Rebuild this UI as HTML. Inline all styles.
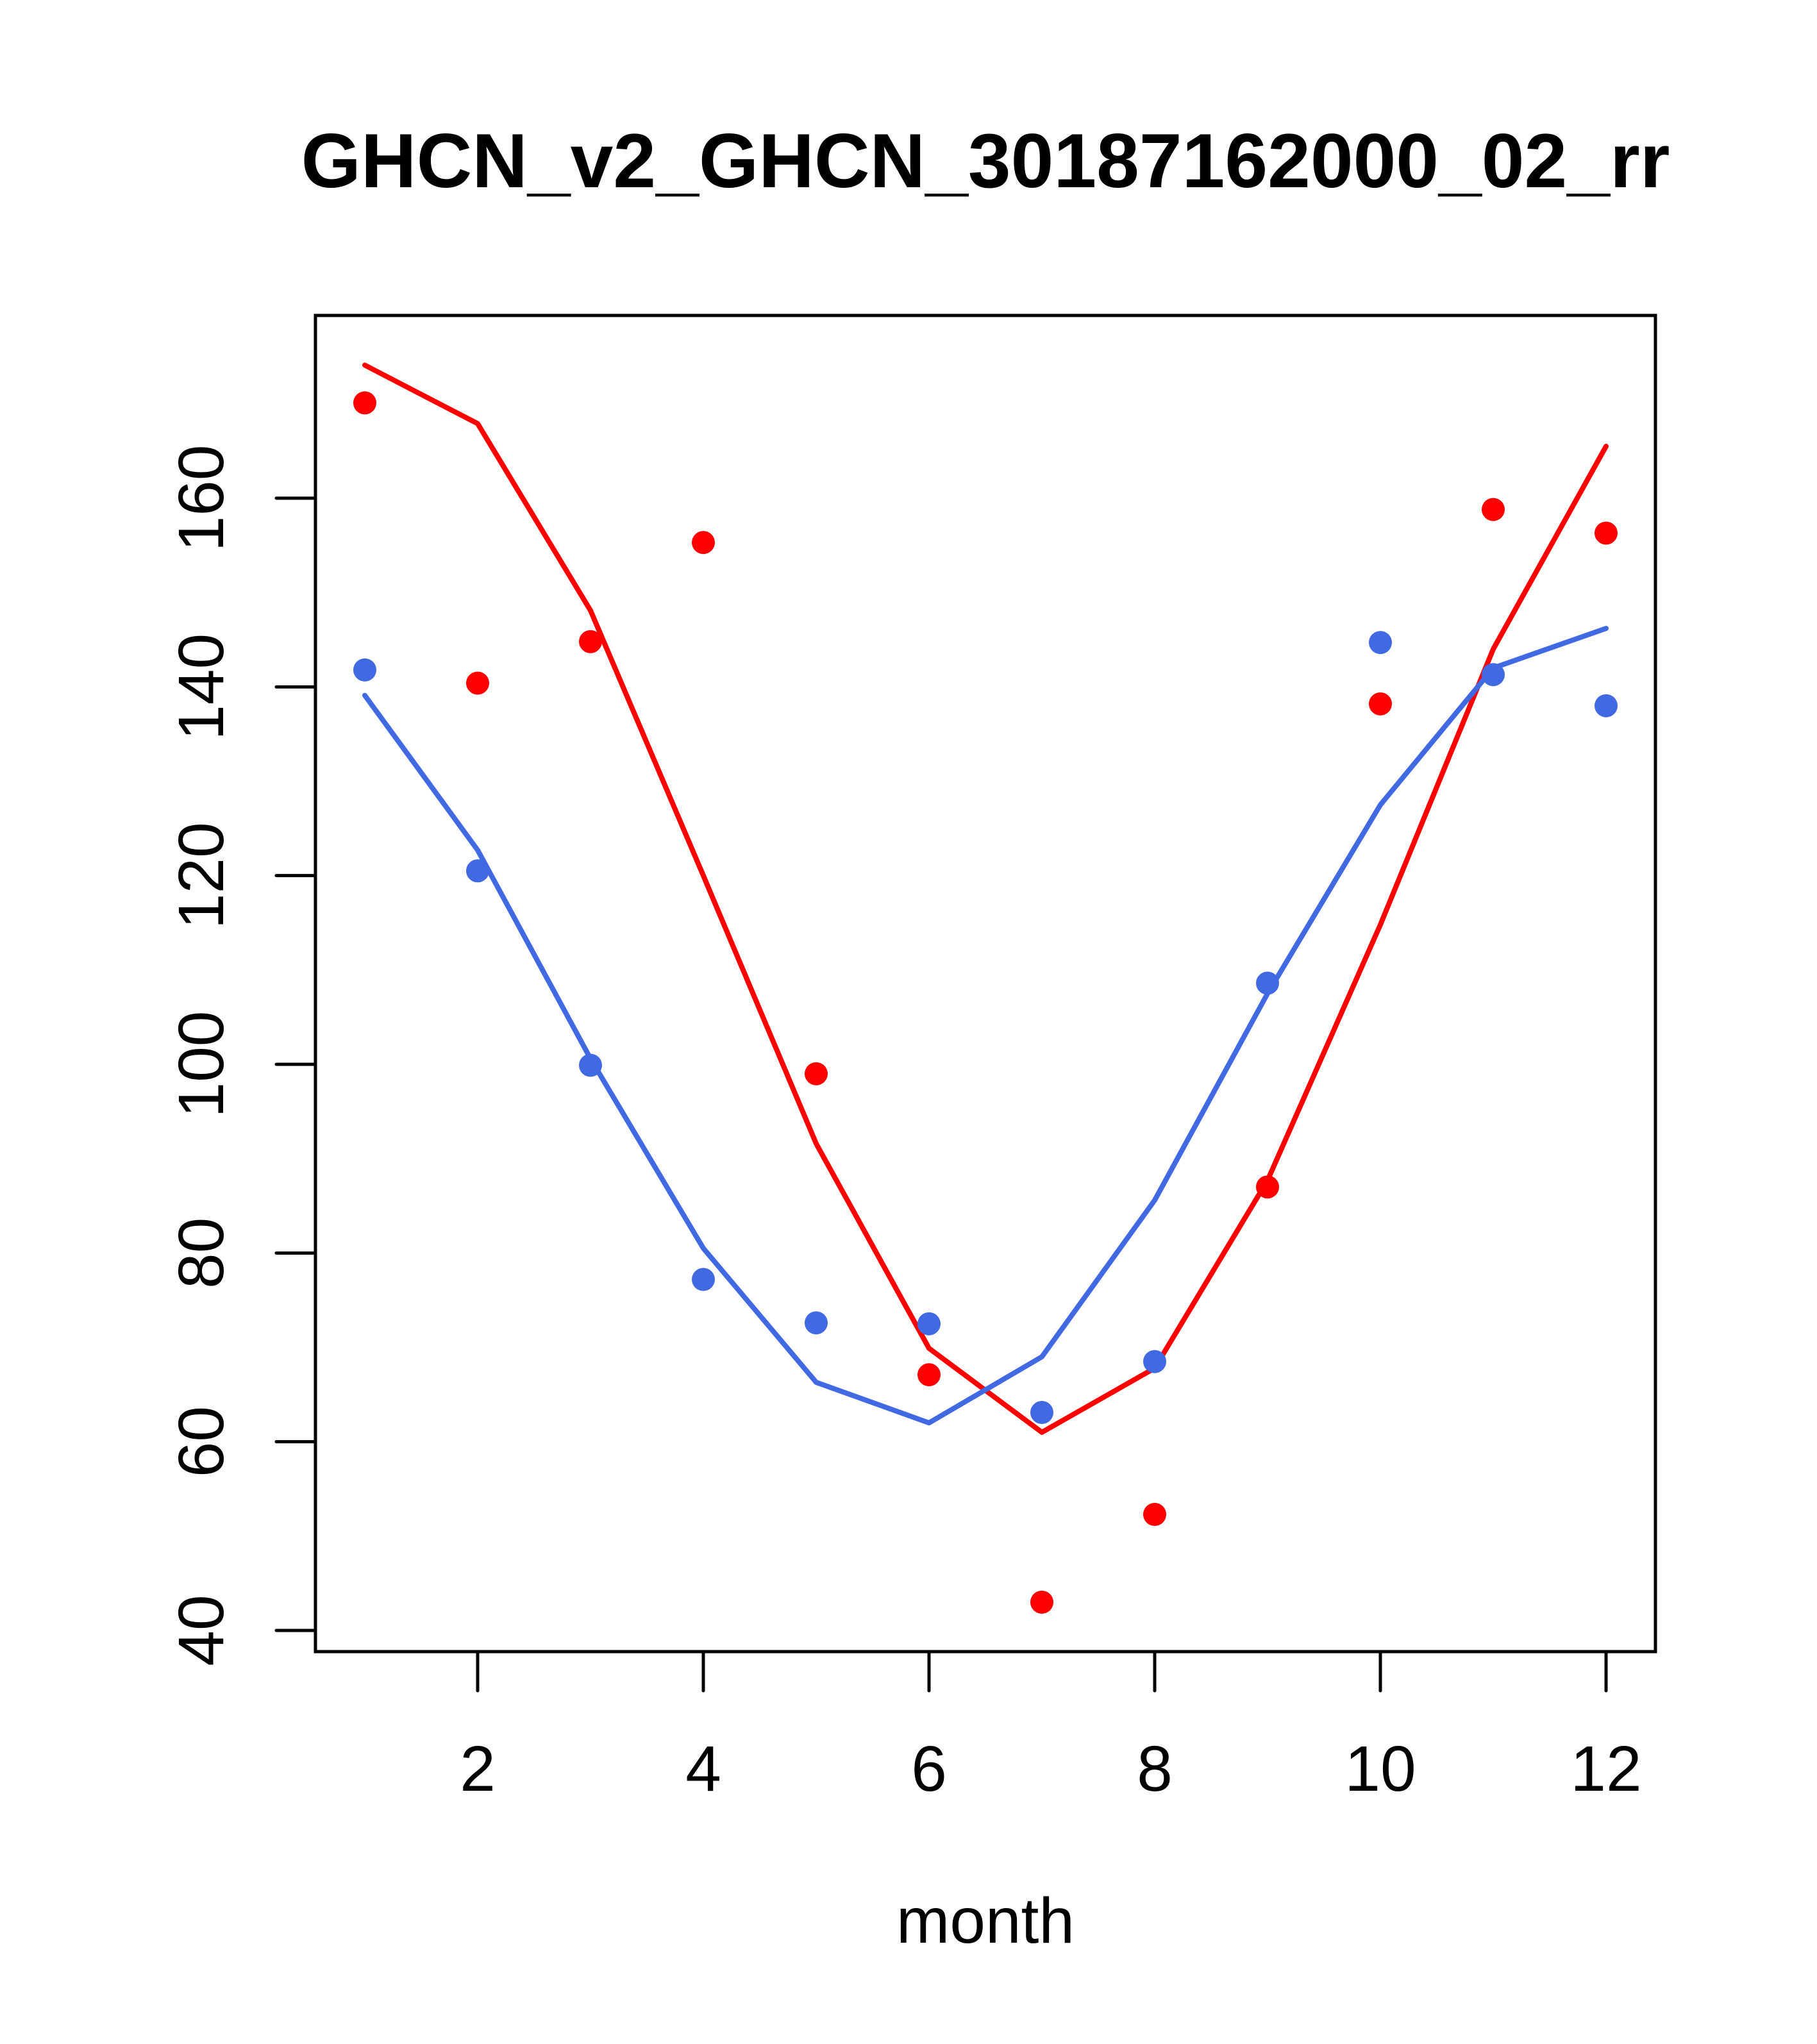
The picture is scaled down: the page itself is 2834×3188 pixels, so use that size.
<!DOCTYPE html>
<html><head><meta charset="utf-8"><style>html,body{margin:0;padding:0;background:#fff}svg{display:block}</style></head>
<body>
<svg id="chart" xmlns="http://www.w3.org/2000/svg" width="2834" height="3188" viewBox="0 0 2834 3188" font-family="Liberation Sans, sans-serif">
<rect width="2834" height="3188" fill="#fff"/>
<text x="1537" y="292" font-size="120" font-weight="bold" text-anchor="middle">GHCN_v2_GHCN_30187162000_02_rr</text>
<text x="1537" y="3030" font-size="100" text-anchor="middle">month</text>
<g id="marks"></g>
<rect x="492" y="492" width="2090" height="2084" fill="none" stroke="#000" stroke-width="5"/>
</svg>
<script>
const months = [1,2,3,4,5,6,7,8,9,10,11,12];
const redPoints = [170.1,140.4,144.8,155.3,99.0,67.1,43.0,52.3,87.0,138.2,158.8,156.3];
const bluePoints = [141.8,120.5,99.9,77.2,72.6,72.5,63.1,68.5,108.6,144.7,141.3,138.0];
const redLine = [174.1,167.9,148.1,120.0,91.6,69.9,61.0,67.8,87.7,114.8,144.0,165.5];
const blueLine = [139.1,122.7,100.6,80.5,66.3,62.0,69.0,85.6,107.5,127.5,142.0,146.2];
const xTicks = [2,4,6,8,10,12];
const yTicks = [40,60,80,100,120,140,160];

const NS = 'http://www.w3.org/2000/svg';
function sx(m){ return 569 + (m-1)*176; }
function sy(v){ return 2543 - (v-40)*(2543-777)/120; }
const g = document.getElementById('marks');
function mk(tag, attrs, parent){ const e=document.createElementNS(NS,tag); for(const k in attrs) e.setAttribute(k,attrs[k]); (parent||g).appendChild(e); return e; }

const xa = mk('path',{d:`M${sx(xTicks[0])},2576H${sx(xTicks[xTicks.length-1])}`,stroke:'#000','stroke-width':5,fill:'none'});


xTicks.forEach(t=>{
  const l = mk('line',{x1:sx(t),x2:sx(t),y1:2576,y2:2637,stroke:'#000','stroke-width':5,'stroke-linecap':'round'});
  
  
  const tx = mk('text',{x:sx(t),y:2793,'font-size':100,'text-anchor':'middle'});
  tx.textContent = t;
  
  
});
const ya = mk('path',{d:`M492,${sy(yTicks[0])}V${sy(yTicks[yTicks.length-1])}`,stroke:'#000','stroke-width':5,fill:'none'});


yTicks.forEach(t=>{
  const l = mk('line',{x1:431,x2:492,y1:sy(t),y2:sy(t),stroke:'#000','stroke-width':5,'stroke-linecap':'round'});
  
  
  const tx = mk('text',{x:0,y:0,'font-size':100,'text-anchor':'middle',transform:`translate(348,${sy(t)}) rotate(-90)`});
  tx.textContent = t;
  
  
});
function line(vals,color,name){
  const p = mk('polyline',{points:vals.map((v,i)=>sx(months[i])+','+sy(v)).join(' '),fill:'none',stroke:color,'stroke-width':8,'stroke-linecap':'round','stroke-linejoin':'round'});
  
  
}
function pts(vals,color,name){
  vals.forEach((v,i)=>{
    const c = mk('circle',{cx:sx(months[i]),cy:sy(v),r:18,fill:color});
    
    
  });
}
line(redLine,'#ff0000','red-fit-line');
line(blueLine,'#4169e1','blue-fit-line');
pts(redPoints,'#ff0000','red-point');
pts(bluePoints,'#4169e1','blue-point');
</script>
</body></html>
